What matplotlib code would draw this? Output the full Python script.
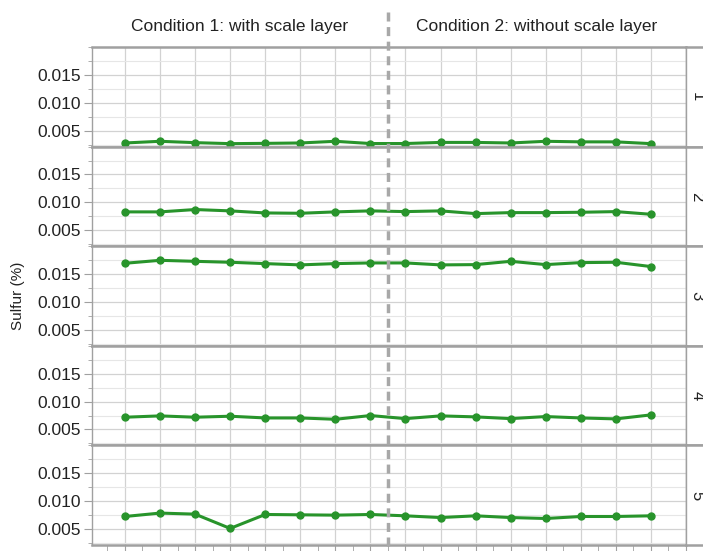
import numpy as np
import matplotlib
matplotlib.use("Agg")
import matplotlib.pyplot as plt
from matplotlib.lines import Line2D
from matplotlib.ticker import MultipleLocator
import matplotlib.transforms as mtransforms

plt.rcParams['font.family'] = ['Liberation Sans', 'DejaVu Sans']

# sample index along x (16 measurements, 8 per condition)
samples = np.arange(1, 17)
panels = ["1", "2", "3", "4", "5"]
conditions = ["Condition 1: with scale layer", "Condition 2: without scale layer"]

s1 = [0.0028, 0.0031, 0.00286, 0.00268, 0.00273, 0.0028, 0.0031, 0.0027,
      0.0027, 0.0029, 0.0029, 0.0028, 0.0031, 0.0030, 0.0030, 0.00268]
s2 = [0.0083, 0.0083, 0.00872, 0.00848, 0.00811, 0.00805, 0.0083, 0.00848,
      0.00835, 0.00848, 0.00799, 0.00817, 0.00817, 0.00823, 0.00835, 0.00787]
s3 = [0.01694, 0.01747, 0.01729, 0.01712, 0.01688, 0.01665, 0.01688, 0.0170,
      0.0170, 0.01665, 0.0167, 0.01729, 0.0167, 0.01706, 0.01712, 0.01635]
s4 = [0.0072, 0.00744, 0.0072, 0.00738, 0.00707, 0.00707, 0.00683, 0.0075,
      0.00695, 0.00744, 0.00726, 0.00695, 0.00732, 0.00707, 0.0069, 0.00762]
s5 = [0.00726, 0.00787, 0.00768, 0.00512, 0.00762, 0.00756, 0.0075, 0.00762,
      0.00738, 0.00707, 0.00738, 0.00707, 0.0069, 0.00726, 0.00726, 0.00738]
series = [s1, s2, s3, s4, s5]
split_at = 8.5

green = "#28942b"
frame = "#a0a0a0"

fig = plt.figure(figsize=(7.03, 5.51), dpi=100)
left, right = 92 / 703, 686 / 703
top, bottom = 1 - 47 / 551, 6 / 551
ph = (top - bottom) / 5

axes = []
for i, vals in enumerate(series):
    y0 = top - (i + 1) * ph
    ax = fig.add_axes([left, y0, right - left, ph])
    axes.append(ax)
    ax.set_xlim(0.06, 17.0)
    ax.set_ylim(0.00215, 0.0200)
    ax.yaxis.set_major_locator(MultipleLocator(0.005))
    ax.yaxis.set_minor_locator(MultipleLocator(0.0025))
    ax.xaxis.set_major_locator(MultipleLocator(1))
    ax.xaxis.set_minor_locator(MultipleLocator(0.5))
    ax.grid(which="major", color="#d2d2d2", lw=0.9)
    ax.grid(which="minor", axis="y", color="#e6e6e6", lw=0.8)
    ax.set_axisbelow(True)
    ax.plot(samples, vals, color=green, lw=2.2, marker="o", ms=5, zorder=3)
    for sp in ax.spines.values():
        sp.set_color(frame)
        sp.set_linewidth(1.0)
    ax.spines["top"].set_linewidth(1.8)
    ax.spines["bottom"].set_linewidth(1.8)
    ax.set_yticks([0.005, 0.010, 0.015])
    ax.set_yticklabels(["0.005", "0.010", "0.015"])
    ax.tick_params(axis="y", which="major", length=6, color=frame,
                   labelsize=12.5, labelcolor="#222222", pad=2)
    ax.tick_params(axis="y", which="minor", length=3, color=frame)
    if i < 4:
        ax.tick_params(axis="x", which="both", length=0, labelbottom=False)
    else:
        ax.tick_params(axis="x", which="major", length=5, color=frame,
                       labelbottom=False)
        ax.tick_params(axis="x", which="minor", length=4, color=frame)

    # right strip with panel label
    sx = fig.add_axes([right, y0, 0.05, ph])
    sx.set_xticks([])
    sx.set_yticks([])
    for sp in sx.spines.values():
        sp.set_color(frame)
    sx.spines["left"].set_linewidth(1.0)
    sx.spines["top"].set_linewidth(1.8)
    sx.spines["bottom"].set_linewidth(1.8)
    sx.spines["right"].set_visible(False)
    fig.text(697 / 703, y0 + ph / 2, panels[i], rotation=270,
             ha="center", va="center", fontsize=12, color="#222222")

# condition headers, centered over each half
trans = mtransforms.blended_transform_factory(axes[0].transData, fig.transFigure)
fig.text((0.06 + split_at) / 2, 1 - 26 / 551, conditions[0], transform=trans,
         ha="center", va="center", fontsize=12.5, color="#222222")
fig.text((split_at + 17.0) / 2, 1 - 26 / 551, conditions[1], transform=trans,
         ha="center", va="center", fontsize=12.5, color="#222222")

# dashed divider between conditions
fig.add_artist(Line2D([split_at, split_at], [1 - 12 / 551, 0], transform=trans,
                      color="#a8a8a8", lw=2.5, ls=(0, (2.6, 1.6)), zorder=5))

fig.text(18 / 703, (top + bottom) / 2, "Sulfur (%)", rotation=90,
         ha="center", va="center", fontsize=11, color="#222222")

fig.savefig("out.png", dpi=100)
